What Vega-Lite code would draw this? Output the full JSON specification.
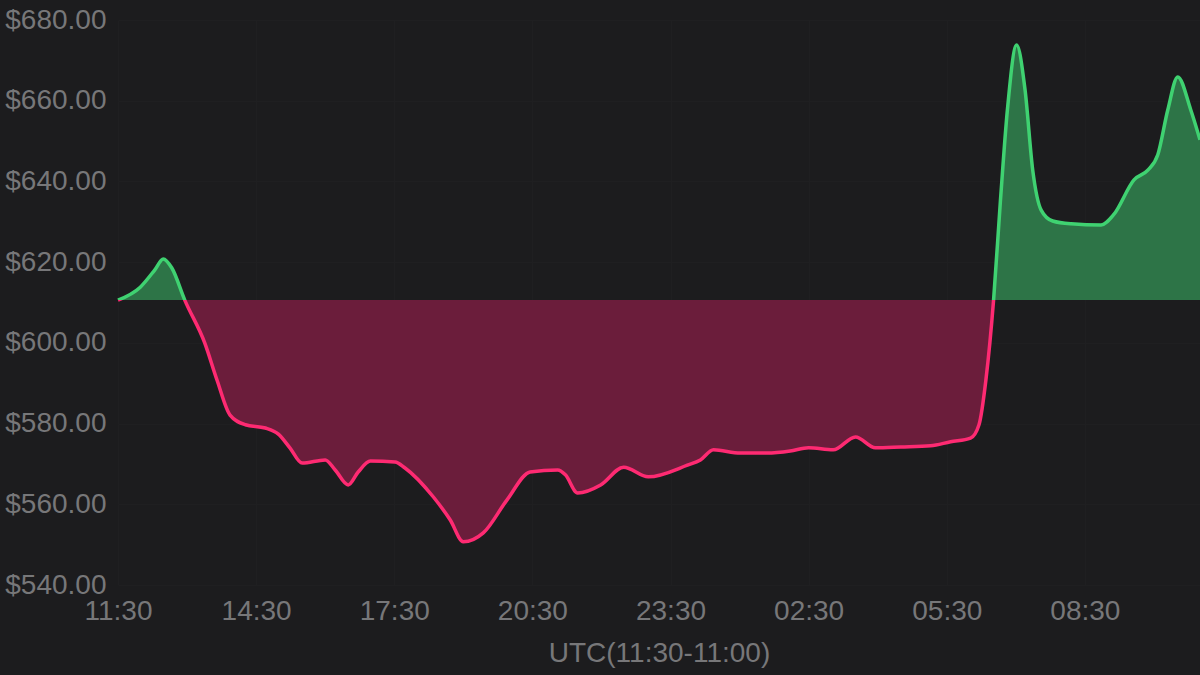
{
  "$schema": "https://vega.github.io/schema/vega-lite/v6.json",
  "width": 1082,
  "height": 565,
  "autosize": {"type": "none"},
  "padding": {"left": 118, "top": 20, "right": 0, "bottom": 90},
  "background": "#1c1c1e",
  "config": {
    "view": {"stroke": null},
    "font": "Liberation Sans",
    "axis": {
      "labelColor": "#777779",
      "labelFontSize": 28,
      "titleColor": "#777779",
      "titleFontSize": 28,
      "titleFontWeight": "normal",
      "domain": false,
      "ticks": false,
      "labelFlush": false,
      "labelOverlap": false,
      "gridColor": "#1f1f21",
      "gridWidth": 1
    }
  },
  "data": {
    "values": [
      {"time": "2024-05-01T11:30:00Z", "price": 610.6},
      {"time": "2024-05-01T11:59:00Z", "price": 613.8},
      {"time": "2024-05-01T12:18:00Z", "price": 618.1},
      {"time": "2024-05-01T12:29:00Z", "price": 620.8},
      {"time": "2024-05-01T12:40:00Z", "price": 618.6},
      {"time": "2024-05-01T12:57:00Z", "price": 610.6},
      {"time": "2024-05-01T13:23:00Z", "price": 600.0},
      {"time": "2024-05-01T13:39:00Z", "price": 590.8},
      {"time": "2024-05-01T13:56:00Z", "price": 582.1},
      {"time": "2024-05-01T14:16:00Z", "price": 579.7},
      {"time": "2024-05-01T14:42:00Z", "price": 578.9},
      {"time": "2024-05-01T14:59:00Z", "price": 577.4},
      {"time": "2024-05-01T15:14:00Z", "price": 574.0},
      {"time": "2024-05-01T15:30:00Z", "price": 570.2},
      {"time": "2024-05-01T16:00:00Z", "price": 571.0},
      {"time": "2024-05-01T16:13:00Z", "price": 568.5},
      {"time": "2024-05-01T16:30:00Z", "price": 564.8},
      {"time": "2024-05-01T16:43:00Z", "price": 568.0},
      {"time": "2024-05-01T16:59:00Z", "price": 570.7},
      {"time": "2024-05-01T17:31:00Z", "price": 570.5},
      {"time": "2024-05-01T17:44:00Z", "price": 569.0},
      {"time": "2024-05-01T18:21:00Z", "price": 561.8},
      {"time": "2024-05-01T18:43:00Z", "price": 556.1},
      {"time": "2024-05-01T19:00:00Z", "price": 550.7},
      {"time": "2024-05-01T19:26:00Z", "price": 552.9},
      {"time": "2024-05-01T19:57:00Z", "price": 561.1},
      {"time": "2024-05-01T20:27:00Z", "price": 568.0},
      {"time": "2024-05-01T21:03:00Z", "price": 568.5},
      {"time": "2024-05-01T21:13:00Z", "price": 567.3},
      {"time": "2024-05-01T21:29:00Z", "price": 562.8},
      {"time": "2024-05-01T21:59:00Z", "price": 564.8},
      {"time": "2024-05-01T22:29:00Z", "price": 569.2},
      {"time": "2024-05-01T23:01:00Z", "price": 566.8},
      {"time": "2024-05-01T23:52:00Z", "price": 569.7},
      {"time": "2024-05-02T00:09:00Z", "price": 571.0},
      {"time": "2024-05-02T00:26:00Z", "price": 573.5},
      {"time": "2024-05-02T01:01:00Z", "price": 572.7},
      {"time": "2024-05-02T01:36:00Z", "price": 572.7},
      {"time": "2024-05-02T02:06:00Z", "price": 573.2},
      {"time": "2024-05-02T02:30:00Z", "price": 574.0},
      {"time": "2024-05-02T03:02:00Z", "price": 573.5},
      {"time": "2024-05-02T03:31:00Z", "price": 576.7},
      {"time": "2024-05-02T03:57:00Z", "price": 574.0},
      {"time": "2024-05-02T04:30:00Z", "price": 574.2},
      {"time": "2024-05-02T05:09:00Z", "price": 574.5},
      {"time": "2024-05-02T05:35:00Z", "price": 575.5},
      {"time": "2024-05-02T06:01:00Z", "price": 576.4},
      {"time": "2024-05-02T06:12:00Z", "price": 579.7},
      {"time": "2024-05-02T06:21:00Z", "price": 590.8},
      {"time": "2024-05-02T06:31:00Z", "price": 610.6},
      {"time": "2024-05-02T06:40:00Z", "price": 635.4},
      {"time": "2024-05-02T06:49:00Z", "price": 657.7},
      {"time": "2024-05-02T07:01:00Z", "price": 673.8},
      {"time": "2024-05-02T07:12:00Z", "price": 662.7},
      {"time": "2024-05-02T07:22:00Z", "price": 642.8},
      {"time": "2024-05-02T07:33:00Z", "price": 632.9},
      {"time": "2024-05-02T07:48:00Z", "price": 630.2},
      {"time": "2024-05-02T08:12:00Z", "price": 629.5},
      {"time": "2024-05-02T08:51:00Z", "price": 629.2},
      {"time": "2024-05-02T09:08:00Z", "price": 631.9},
      {"time": "2024-05-02T09:34:00Z", "price": 640.4},
      {"time": "2024-05-02T09:52:00Z", "price": 642.8},
      {"time": "2024-05-02T10:05:00Z", "price": 646.6},
      {"time": "2024-05-02T10:18:00Z", "price": 657.7},
      {"time": "2024-05-02T10:31:00Z", "price": 665.9},
      {"time": "2024-05-02T10:48:00Z", "price": 657.7},
      {"time": "2024-05-02T11:00:00Z", "price": 650.3}
    ]
  },
  "encoding": {
    "x": {
      "field": "time",
      "type": "temporal",
      "scale": {
        "type": "utc",
        "domain": [
          {"year": 2024, "month": 5, "date": 1, "hours": 11, "minutes": 30, "utc": true},
          {"year": 2024, "month": 5, "date": 2, "hours": 11, "minutes": 0, "utc": true}
        ]
      },
      "axis": {
        "title": "UTC(11:30-11:00)",
        "format": "%H:%M",
        "labelPadding": 12,
        "titlePadding": 14,
        "labelBound": false,
        "values": [
          {"year": 2024, "month": 5, "date": 1, "hours": 11, "minutes": 30, "utc": true},
          {"year": 2024, "month": 5, "date": 1, "hours": 14, "minutes": 30, "utc": true},
          {"year": 2024, "month": 5, "date": 1, "hours": 17, "minutes": 30, "utc": true},
          {"year": 2024, "month": 5, "date": 1, "hours": 20, "minutes": 30, "utc": true},
          {"year": 2024, "month": 5, "date": 1, "hours": 23, "minutes": 30, "utc": true},
          {"year": 2024, "month": 5, "date": 2, "hours": 2, "minutes": 30, "utc": true},
          {"year": 2024, "month": 5, "date": 2, "hours": 5, "minutes": 30, "utc": true},
          {"year": 2024, "month": 5, "date": 2, "hours": 8, "minutes": 30, "utc": true}
        ]
      }
    },
    "y": {
      "field": "price",
      "type": "quantitative",
      "scale": {"domain": [540, 680], "nice": false, "zero": false},
      "axis": {
        "title": null,
        "format": "$.2f",
        "values": [540, 560, 580, 600, 620, 640, 660, 680],
        "labelPadding": 12
      }
    }
  },
  "layer": [
    {
      "mark": {
        "type": "area",
        "interpolate": "monotone",
        "color": {
          "gradient": "linear",
          "x1": 0, "y1": 0, "x2": 0, "y2": 1,
          "stops": [
            {"offset": 0, "color": "#2d7447"},
            {"offset": 0.5134, "color": "#2d7447"},
            {"offset": 0.5134, "color": "#6b1d3b"},
            {"offset": 1, "color": "#6b1d3b"}
          ]
        }
      },
      "encoding": {
        "y2": {"datum": 610.6}
      }
    },
    {
      "mark": {
        "type": "line",
        "interpolate": "monotone",
        "strokeWidth": 3.5,
        "stroke": {
          "gradient": "linear",
          "x1": 0, "y1": 0, "x2": 0, "y2": 1,
          "stops": [
            {"offset": 0, "color": "#3fd271"},
            {"offset": 0.5134, "color": "#3fd271"},
            {"offset": 0.5134, "color": "#fe2a72"},
            {"offset": 1, "color": "#fe2a72"}
          ]
        }
      },
      "encoding": {}
    }
  ]
}
